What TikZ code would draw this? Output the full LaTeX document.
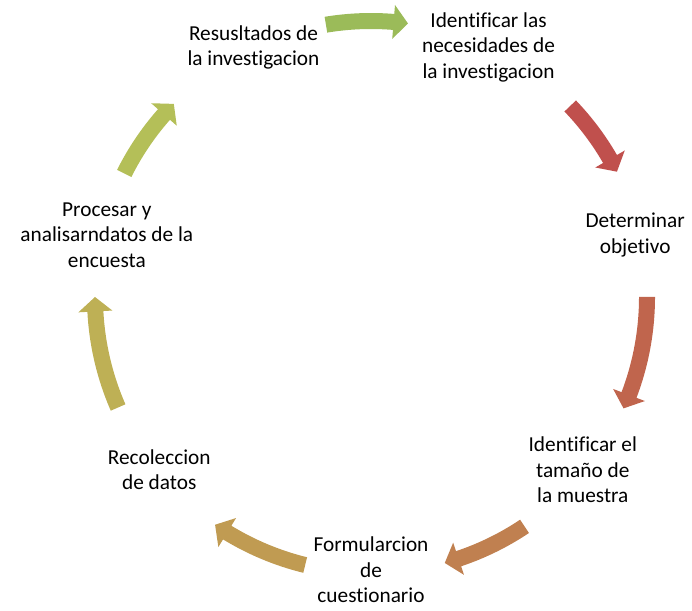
\documentclass[tikz,border=0pt]{standalone}
\usepackage{fontspec}
\setmainfont{Carlito}[Ligatures=NoCommon]
\usepackage{xcolor}

\definecolor{arrowred}{RGB}{192,80,77}
\definecolor{arrowrust}{RGB}{192,101,77}
\definecolor{arroworange}{RGB}{192,128,80}
\definecolor{arrowgold}{RGB}{192,155,82}
\definecolor{arrowolive}{RGB}{190,176,85}
\definecolor{arrowlime}{RGB}{180,191,88}
\definecolor{arrowgreen}{RGB}{155,187,89}

\newcommand{\arrowradius}{276}
% start angle, tip angle, colour
\newcommand{\cyclearrow}[3]{%
  \fill[#3] (#1:\arrowradius+8)
    arc[start angle=#1, end angle=#2+3, radius=\arrowradius+8]
    -- (#2+3:\arrowradius+17) -- (#2:\arrowradius) -- (#2+3:\arrowradius-17)
    -- (#2+3:\arrowradius-8)
    arc[start angle=#2+3, end angle=#1, radius=\arrowradius-8] -- cycle;}

\begin{document}
\begin{tikzpicture}[x=1pt, y=1pt,
        % Define stage style
        stage/.style={
        align=center,
        inner sep=0pt,
        font=\fontsize{21.3}{25.5}\selectfont
        }]
        \useasboundingbox (0,0) rectangle (692,610);
        \begin{scope}[shift={(371,313)}]
        % Nodes
        \node[stage] (necesidades) at (64.3:271 and 277) {Identificar las\\necesidades de\\la investigacion};
        \node[stage] (objetivo) at (12.9:271 and 277) {Determinar\\objetivo};
        \node[stage] (muestra) at (-38.6:271 and 277) {Identificar el\\tama\~no de\\la muestra};
        \node[stage] (cuestionario) at (-90:271 and 273) {Formularcion\\de\\cuestionario};
        \node[stage] (recoleccion) at (-141.4:271 and 277) {Recoleccion\\de datos};
        \node[stage] (procesar) at (167.1:271 and 277) {Procesar y\\analisarndatos de la\\encuesta};
        \node[stage] (resultados) at (115.7:271 and 277) {Resusltados de\\la investigacion};

        % Arrows
        \cyclearrow{43.8}{27}{arrowred}
        \cyclearrow{0}{-23.8}{arrowrust}
        \cyclearrow{-56.2}{-74.5}{arroworange}
        \cyclearrow{256.2}{235.6}{arrowgold}
        \cyclearrow{203.6}{180}{arrowolive}
        \cyclearrow{153.4}{135.6}{arrowlime}
        \cyclearrow{99.4}{82.3}{arrowgreen}
        \end{scope}
    \end{tikzpicture}
\end{document}
